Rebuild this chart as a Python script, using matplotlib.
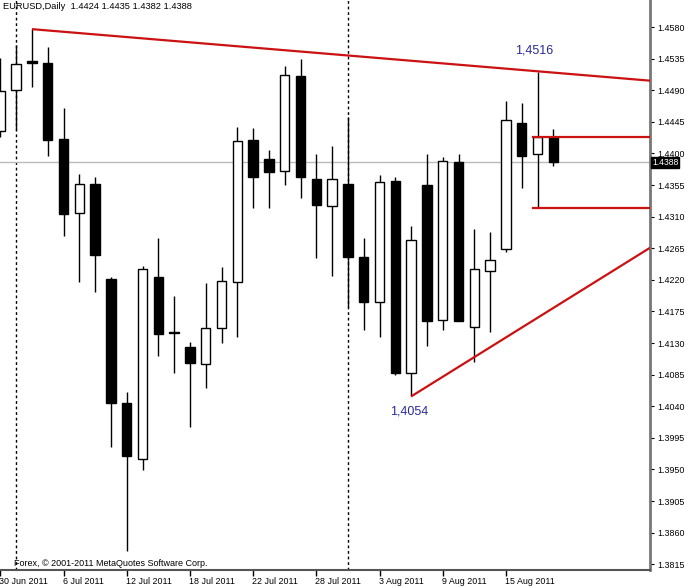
#!/usr/bin/env python3
# -*- coding: utf-8 -*-
"""
EURUSD daily candles (30 Jun - 18 Aug 2011) drawn in MetaTrader style,
with two red trend lines, two red horizontal levels and labels.
"""

import numpy as np
import matplotlib
matplotlib.use("Agg")
import matplotlib.pyplot as plt
import matplotlib.transforms as mtransforms

# ---- DATA ----
dates = ["30 Jun", "1 Jul", "4 Jul", "5 Jul", "6 Jul", "7 Jul", "8 Jul",
         "11 Jul", "12 Jul", "13 Jul", "14 Jul", "15 Jul", "18 Jul", "19 Jul",
         "20 Jul", "21 Jul", "22 Jul", "25 Jul", "26 Jul", "27 Jul", "28 Jul",
         "29 Jul", "1 Aug", "2 Aug", "3 Aug", "4 Aug", "5 Aug", "8 Aug",
         "9 Aug", "10 Aug", "11 Aug", "12 Aug", "15 Aug", "16 Aug", "17 Aug",
         "18 Aug"]

opens  = [1.4432, 1.4490, 1.4532, 1.4529, 1.4421, 1.4315, 1.4357, 1.4221,
          1.4044, 1.3965, 1.4224, 1.4146, 1.4125, 1.4100, 1.4152, 1.4217,
          1.4419, 1.4392, 1.4375, 1.4510, 1.4364, 1.4325, 1.4357, 1.4253,
          1.4189, 1.4361, 1.4088, 1.4355, 1.4163, 1.4388, 1.4153, 1.4233,
          1.4264, 1.4443, 1.4399, 1.4424]
highs  = [1.4536, 1.4554, 1.4577, 1.4551, 1.4465, 1.4371, 1.4367, 1.4224,
          1.4060, 1.4240, 1.4280, 1.4197, 1.4131, 1.4215, 1.4238, 1.4438,
          1.4436, 1.4405, 1.4525, 1.4534, 1.4399, 1.4411, 1.4452, 1.4280,
          1.4369, 1.4367, 1.4296, 1.4399, 1.4395, 1.4399, 1.4293, 1.4288,
          1.4475, 1.4472, 1.4516, 1.4435]
lows   = [1.4424, 1.4434, 1.4495, 1.4396, 1.4282, 1.4217, 1.4203, 1.3982,
          1.3834, 1.3949, 1.4112, 1.4088, 1.4010, 1.4066, 1.4130, 1.4138,
          1.4322, 1.4322, 1.4355, 1.4336, 1.4251, 1.4226, 1.4182, 1.4148,
          1.4139, 1.4085, 1.4054, 1.4126, 1.4149, 1.4161, 1.4103, 1.4146,
          1.4260, 1.4351, 1.4322, 1.4382]
closes = [1.4489, 1.4527, 1.4529, 1.4419, 1.4314, 1.4356, 1.4256, 1.4045,
          1.3969, 1.4236, 1.4143, 1.4145, 1.4101, 1.4151, 1.4218, 1.4418,
          1.4366, 1.4374, 1.4511, 1.4367, 1.4326, 1.4364, 1.4252, 1.4189,
          1.4360, 1.4088, 1.4277, 1.4162, 1.4389, 1.4162, 1.4235, 1.4248,
          1.4448, 1.4397, 1.4424, 1.4388]

# x tick labels (every 4th bar) and month separators
xtick_idx    = [0, 4, 8, 12, 16, 20, 24, 28, 32]
xtick_labels = ["30 Jun 2011", "6 Jul 2011", "12 Jul 2011", "18 Jul 2011",
                "22 Jul 2011", "28 Jul 2011", "3 Aug 2011", "9 Aug 2011",
                "15 Aug 2011"]
separator_idx = [1, 22]

# price scale ticks
ytick_values = [1.4580, 1.4535, 1.4490, 1.4445, 1.4400, 1.4355, 1.4310,
                1.4265, 1.4220, 1.4175, 1.4130, 1.4085, 1.4040, 1.3995,
                1.3950, 1.3905, 1.3860, 1.3815]

# trend lines: two anchor points each (bar index, price)
upper_trend = [(2, 1.4577), (34, 1.4517)]
lower_trend = [(26, 1.4054), (30, 1.4110)]
# horizontal levels drawn from bar 34 to the right
level_start = 34
levels = [1.4424, 1.4322]

# annotated extremes
marks = [(34, 1.4516, "1,4516"), (26, 1.4054, "1,4054")]

title_text = "EURUSD,Daily  1.4424 1.4435 1.4382 1.4388"
copyright_text = "Forex, \u00a9 2001-2011 MetaQuotes Software Corp."

# ---- STYLE ----
FONT = "Liberation Sans"
RED = "#cc1111"
LABEL_BLUE = "#2a2a99"


def main():
    plt.rcParams["font.family"] = [FONT, "DejaVu Sans"]

    fig = plt.figure(figsize=(6.88, 5.88), dpi=100)
    ax = fig.add_axes([0.0, 18 / 588, 650 / 688, 570 / 588])

    x = np.arange(len(dates))
    o = np.array(opens)
    c = np.array(closes)
    up = c >= o

    # wicks
    ax.vlines(x, lows, highs, color="black", linewidth=1.0, zorder=3)
    # bodies (white for up, black for down)
    body_bottom = np.minimum(o, c)
    body_h = np.maximum(np.abs(c - o), 0.00004)
    ax.bar(x[up], body_h[up], bottom=body_bottom[up], width=0.6,
           color="white", edgecolor="black", linewidth=1.0, zorder=4)
    ax.bar(x[~up], body_h[~up], bottom=body_bottom[~up], width=0.6,
           color="black", edgecolor="black", linewidth=1.0, zorder=4)

    x_right = 41.12
    ax.set_xlim(-0.02, x_right)
    ax.set_ylim(1.38069, 1.46185)

    # month separators
    for i in separator_idx:
        ax.axvline(i, color="black", linestyle=(0, (2, 2)), linewidth=1.0,
                   zorder=1)

    # current price line
    ax.axhline(closes[-1], color="#bbbbbb", linewidth=1.0, zorder=1)

    # trend lines, extended to the right edge
    for (x0, y0), (x1, y1) in (upper_trend, lower_trend):
        slope = (y1 - y0) / (x1 - x0)
        ax.plot([x0, x_right], [y0, y0 + slope * (x_right - x0)],
                color=RED, linewidth=1.6, zorder=5, solid_capstyle="butt")

    # horizontal levels
    for lv in levels:
        ax.plot([level_start - 0.3, x_right], [lv, lv], color=RED,
                linewidth=1.6, zorder=5)

    # extreme labels
    ax.text(marks[0][0] - 0.2, marks[0][1] + 0.0030, marks[0][2],
            ha="center", va="center", fontsize=9, color=LABEL_BLUE)
    ax.text(marks[1][0] - 0.1, marks[1][1] - 0.0021, marks[1][2],
            ha="center", va="center", fontsize=9, color=LABEL_BLUE)

    # title and copyright inside the chart
    ax.text(0.004, 0.989, title_text, transform=ax.transAxes, ha="left",
            va="center", fontsize=6.7)
    ax.text(0.022, 0.011, copyright_text, transform=ax.transAxes,
            ha="left", va="center", fontsize=6.5)

    # axes look
    for s in ("left", "top"):
        ax.spines[s].set_visible(False)
    ax.spines["right"].set_color("#777777")
    ax.spines["right"].set_linewidth(2.0)
    ax.spines["bottom"].set_color("#555555")
    ax.spines["bottom"].set_linewidth(1.5)

    ax.yaxis.tick_right()
    ax.set_yticks(ytick_values)
    ax.set_yticklabels([f"{v:.4f}" for v in ytick_values])
    ax.tick_params(axis="y", direction="out", length=3, width=0.8, pad=2,
                   labelsize=6.4, colors="black")

    ax.set_xticks(xtick_idx)
    ax.set_xticklabels(xtick_labels, ha="left")
    ax.tick_params(axis="x", direction="out", length=4, width=1.0, pad=1,
                   labelsize=6.4)
    offset = mtransforms.ScaledTranslation(-1 / 100, 0, fig.dpi_scale_trans)
    for lab in ax.get_xticklabels():
        lab.set_transform(lab.get_transform() + offset)

    # last price tag on the price scale
    trans = mtransforms.blended_transform_factory(ax.transAxes, ax.transData)
    ax.text(1.003, closes[-1] - 0.0001, f"{closes[-1]:.4f}", transform=trans,
            ha="left", va="center", fontsize=6.2, color="white",
            bbox=dict(boxstyle="square,pad=0.08", fc="black", ec="black"),
            zorder=10, clip_on=False)

    fig.savefig("out.png", dpi=100, facecolor="white")
    plt.close(fig)


if __name__ == "__main__":
    main()
